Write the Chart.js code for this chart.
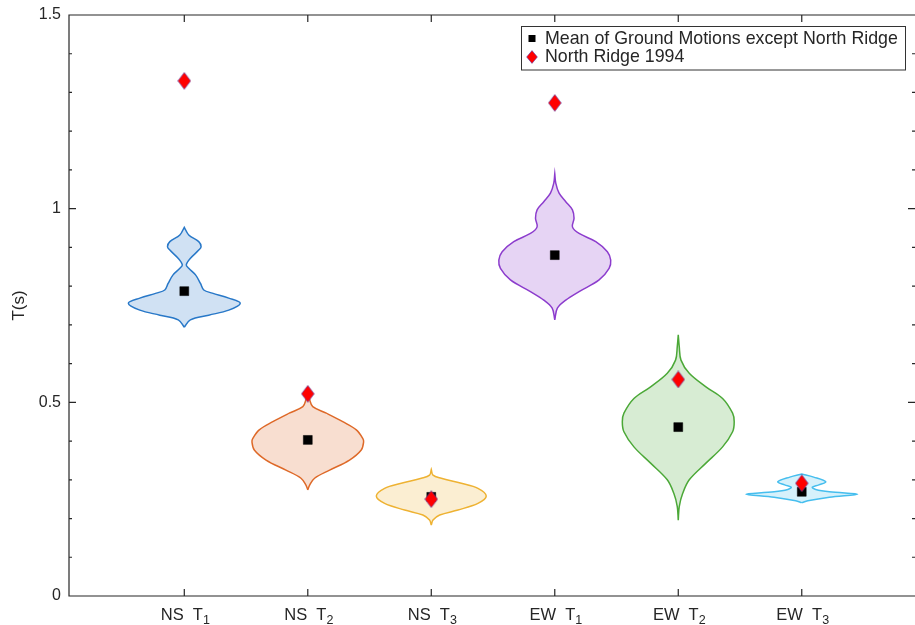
<!DOCTYPE html>
<html>
<head>
<meta charset="utf-8">
<script src="https://cdn.jsdelivr.net/npm/chart.js@4.4.0/dist/chart.umd.min.js"></script>
<style>
html, body { margin: 0; padding: 0; overflow: hidden; background: #fff; }
#myChart { display: block; width: 915px; height: 625px; }
</style>
</head>
<body>
<canvas id="myChart" width="915" height="625"></canvas>
<script>
// tick labels
const categories = ['NS', 'NS', 'NS', 'EW', 'EW', 'EW'];
const subscripts = ['1', '2', '3', '1', '2', '3'];
const yTicks = [0, 0.5, 1, 1.5];

// markers
const meanValues = [0.787, 0.403, 0.256, 0.880, 0.436, 0.269];
const northRidge = [1.330, 0.522, 0.250, 1.273, 0.559, 0.291];

// violin outlines: T values (top -> bottom) and half widths
const nsT1Y = [0.952, 0.932, 0.915, 0.902, 0.893, 0.872, 0.855, 0.846, 0.829, 0.807, 0.790, 0.782, 0.769, 0.756, 0.738, 0.725, 0.713, 0.694];
const nsT1W = [0, 0.036, 0.117, 0.136, 0.117, 0.050, 0.016, 0.036, 0.091, 0.131, 0.158, 0.227, 0.360, 0.453, 0.360, 0.198, 0.049, 0];
const nsT2Y = [0.527, 0.506, 0.489, 0.472, 0.450, 0.429, 0.407, 0.398, 0.377, 0.351, 0.325, 0.304, 0.287, 0.274];
const nsT2W = [0, 0.016, 0.040, 0.150, 0.283, 0.393, 0.445, 0.452, 0.433, 0.338, 0.177, 0.055, 0.016, 0];
const nsT3Y = [0.327, 0.312, 0.304, 0.291, 0.278, 0.258, 0.239, 0.222, 0.209, 0.196, 0.183];
const nsT3W = [0, 0.014, 0.081, 0.243, 0.378, 0.445, 0.378, 0.216, 0.068, 0.014, 0];
const ewT1Y = [1.090, 1.066, 1.040, 1.018, 0.997, 0.975, 0.953, 0.936, 0.915, 0.889, 0.867, 0.846, 0.816, 0.786, 0.764, 0.743, 0.713];
const ewT1W = [0, 0.008, 0.035, 0.089, 0.143, 0.156, 0.143, 0.197, 0.332, 0.426, 0.453, 0.440, 0.359, 0.197, 0.089, 0.021, 0];
const ewT2Y = [0.674, 0.644, 0.609, 0.575, 0.540, 0.510, 0.472, 0.450, 0.424, 0.385, 0.343, 0.300, 0.265, 0.231, 0.196];
const ewT2W = [0, 0.008, 0.022, 0.089, 0.224, 0.359, 0.440, 0.453, 0.440, 0.359, 0.224, 0.089, 0.036, 0.008, 0];
const ewT3Y = [0.315, 0.307, 0.295, 0.287, 0.281, 0.275, 0.269, 0.263, 0.255, 0.246, 0.241];
const ewT3W = [0, 0.097, 0.194, 0.138, 0.085, 0.113, 0.224, 0.453, 0.224, 0.049, 0];

const violinY = [nsT1Y, nsT2Y, nsT3Y, ewT1Y, ewT2Y, ewT3Y];
const violinW = [nsT1W, nsT2W, nsT3W, ewT1W, ewT2W, ewT3W];

const lineColors = ['rgb(40,120,200)', 'rgb(222,105,40)', 'rgb(238,178,50)', 'rgb(140,60,205)', 'rgb(75,168,55)', 'rgb(70,190,238)'];
const fillColors = ['rgba(40,120,200,0.22)', 'rgba(222,105,40,0.22)', 'rgba(238,178,50,0.22)', 'rgba(140,60,205,0.22)', 'rgba(75,168,55,0.22)', 'rgba(70,190,238,0.22)'];

const FONT = "'Liberation Sans', Arial, sans-serif";
const TXT = '#262626';

function outline(c, ys, ws) {
    let pts = [];
    for (let i = ys.length - 1; i >= 0; i--) pts.push({x: c + ws[i], y: ys[i]});
    pts.push({x: c, y: ys[0]});
    for (let i = 1; i < ys.length; i++) pts.push({x: c - ws[i], y: ys[i]});
    pts.push({x: c, y: ys[ys.length - 1]});
    return pts;
}

function makeDiamond(w, h) {
    let cv = document.createElement('canvas');
    cv.width = w; cv.height = h;
    let g = cv.getContext('2d');
    g.beginPath();
    g.moveTo(w / 2, 0.6); g.lineTo(w - 0.6, h / 2); g.lineTo(w / 2, h - 0.6); g.lineTo(0.6, h / 2);
    g.closePath();
    g.fillStyle = '#ff0000'; g.fill();
    g.strokeStyle = 'rgba(70,70,190,0.7)'; g.lineWidth = 0.8; g.stroke();
    return cv;
}
const diamond = makeDiamond(14, 18);
const diamondSmall = makeDiamond(12, 14);

let datasets = [];
datasets.push({
    label: 'North Ridge 1994',
    data: northRidge.map((v, i) => ({x: i + 1, y: v})),
    pointStyle: diamond, pointRadius: 8, showLine: false, order: 1
});
datasets.push({
    label: 'Mean of Ground Motions except North Ridge',
    data: meanValues.map((v, i) => ({x: i + 1, y: v})),
    pointStyle: 'rect', pointRadius: 6.3, backgroundColor: '#000', borderColor: '#000', borderWidth: 0.5,
    showLine: false, order: 2
});
for (let i = 0; i < 6; i++) {
    datasets.push({
        label: 'v' + i,
        data: outline(i + 1, violinY[i], violinW[i]),
        showLine: true, fill: 'shape', tension: 0.35,
        borderColor: lineColors[i], backgroundColor: fillColors[i], borderWidth: 1.5,
        pointRadius: 0, order: 3
    });
}

const framePlugin = {
    id: 'frame',
    afterDraw(chart) {
        const {ctx, chartArea: a, scales: {x, y}} = chart;
        ctx.save();
        ctx.strokeStyle = TXT;
        ctx.lineWidth = 1.2;
        ctx.beginPath();
        // left, top, bottom border (right border falls just outside the picture)
        ctx.moveTo(a.right + 2, a.top); ctx.lineTo(a.left, a.top);
        ctx.lineTo(a.left, a.bottom); ctx.lineTo(a.right + 2, a.bottom);
        for (let k = 0; k <= 15; k++) {
            let py = y.getPixelForValue(k / 10);
            let len = k % 5 === 0 ? 7 : 3;
            ctx.moveTo(a.left, py); ctx.lineTo(a.left + len, py);
            ctx.moveTo(a.right, py); ctx.lineTo(a.right - len, py);
        }
        for (let i = 1; i <= 6; i++) {
            let px = x.getPixelForValue(i);
            ctx.moveTo(px, a.bottom); ctx.lineTo(px, a.bottom - 7);
            ctx.moveTo(px, a.top); ctx.lineTo(px, a.top + 7);
        }
        ctx.stroke();

        // x tick labels with subscripts
        ctx.fillStyle = TXT;
        ctx.textBaseline = 'alphabetic';
        ctx.textAlign = 'left';
        for (let i = 0; i < 6; i++) {
            let main = categories[i] + '  T';
            ctx.font = '16.5px ' + FONT;
            let wm = ctx.measureText(main).width;
            ctx.font = '12.5px ' + FONT;
            let ws = ctx.measureText(subscripts[i]).width;
            let x0 = x.getPixelForValue(i + 1) - (wm + ws) / 2 + 1;
            ctx.font = '16.5px ' + FONT;
            ctx.fillText(main, x0, 620);
            ctx.font = '12.5px ' + FONT;
            ctx.fillText(subscripts[i], x0 + wm, 624);
        }

        // y title
        ctx.save();
        ctx.translate(19, (a.top + a.bottom) / 2);
        ctx.rotate(-Math.PI / 2);
        ctx.textAlign = 'center';
        ctx.textBaseline = 'middle';
        ctx.font = '17px ' + FONT;
        ctx.fillText('T(s)', 0, 0);
        ctx.restore();

        // legend
        ctx.fillStyle = '#fff';
        ctx.fillRect(521.5, 26.5, 384, 43.5);
        ctx.lineWidth = 1;
        ctx.strokeStyle = '#333';
        ctx.strokeRect(521.5, 26.5, 384, 43.5);
        ctx.fillStyle = '#000';
        ctx.fillRect(528.5, 35, 7, 7);
        ctx.drawImage(diamondSmall, 526, 50);
        ctx.fillStyle = TXT;
        ctx.font = '17.8px ' + FONT;
        ctx.textBaseline = 'middle';
        ctx.fillText(datasets[1].label, 545, 39);
        ctx.fillText(datasets[0].label, 545, 57.5);
        ctx.restore();
    }
};

function noPad(scale) {
    scale.paddingLeft = 0; scale.paddingRight = 0;
    scale.paddingTop = 0; scale.paddingBottom = 0;
}

const ctx = document.getElementById('myChart').getContext('2d');
const myChart = new Chart(ctx, {
    type: 'scatter',
    data: {datasets: datasets},
    options: {
        responsive: false,
        maintainAspectRatio: false,
        devicePixelRatio: 1,
        animation: false,
        layout: {autoPadding: false, padding: {top: 15, right: 0, left: 0, bottom: 0}},
        scales: {
            x: {
                type: 'linear', min: 0.0664, max: 6.917,
                grid: {display: false, drawTicks: false},
                border: {display: false},
                ticks: {display: false},
                afterFit(scale) { scale.height = 29; noPad(scale); }
            },
            y: {
                type: 'linear', min: 0, max: 1.5,
                afterBuildTicks(scale) { scale.ticks = yTicks.map(v => ({value: v})); },
                grid: {display: false, drawTicks: false},
                border: {display: false},
                ticks: {
                    color: TXT, padding: 8,
                    font: {family: FONT, size: 16},
                    callback: v => String(v)
                },
                afterFit(scale) { scale.width = 69; noPad(scale); }
            }
        },
        plugins: {
            legend: {display: false},
            tooltip: {enabled: false}
        }
    },
    plugins: [framePlugin]
});
</script>
</body>
</html>
